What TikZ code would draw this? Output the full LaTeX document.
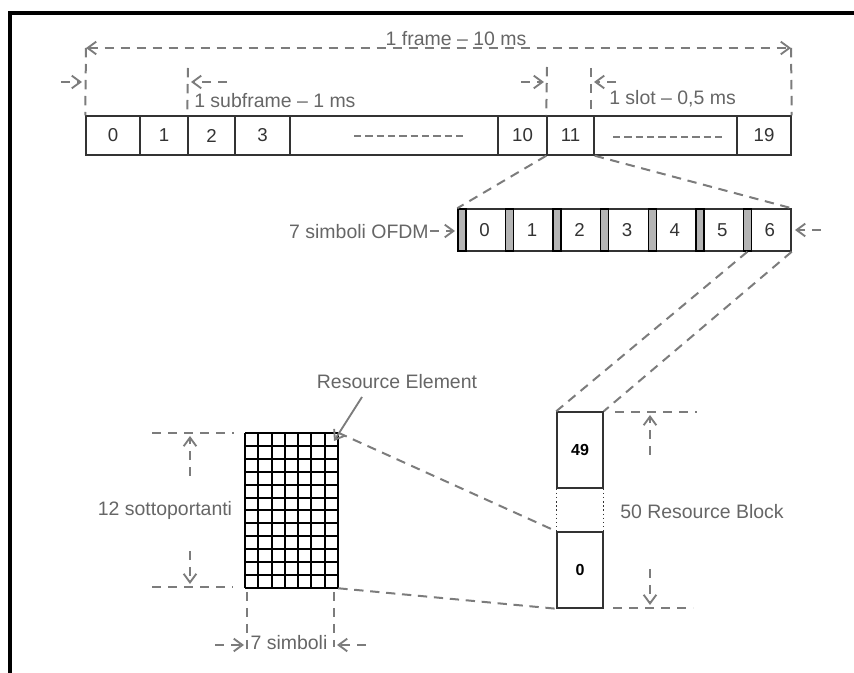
\documentclass[tikz,border=0pt]{standalone}
\usepackage{fontspec}
\setmainfont{Liberation Sans}
\usetikzlibrary{arrows.meta,fit,calc}
\definecolor{dimgray}{HTML}{7C7C7C}
\definecolor{txtgray}{HTML}{666666}
\definecolor{boxline}{HTML}{333333}
\definecolor{cpfill}{HTML}{B4B4B4}
\tikzset{
  dim/.style={draw=dimgray, line width=1.5pt, dash pattern=on 7pt off 5pt},
  tipend/.style={-{Straight Barb[length=6.5pt,width=9.5pt,line width=1.4pt]}},
  tipboth/.style={{Straight Barb[length=6.5pt,width=9.5pt,line width=1.4pt]}-{Straight Barb[length=6.5pt,width=9.5pt,line width=1.4pt]}},
  cell/.style={draw=boxline, line width=1.1pt, inner sep=0pt, fill=white},
  cpbar/.style={draw=black, line width=1.1pt, inner sep=0pt, fill=cpfill},
  digit/.style={text=boxline, font=\fontsize{14}{16}\selectfont, inner sep=0pt},
  bdigit/.style={text=black, font=\fontsize{12}{14}\selectfont\bfseries, inner sep=0pt},
  lbl/.style={text=txtgray, font=\fontsize{14.6}{17}\selectfont, inner sep=0pt},
  fillerdash/.style={draw=dimgray, line width=0.9pt, dash pattern=on 5.5pt off 3pt},
  gridline/.style={draw=black, line width=1.5pt},
  pointer/.style={draw=dimgray, line width=1.4pt, -{Straight Barb[length=6.5pt,width=9.5pt,line width=1.4pt]}},
}
\begin{document}
\begin{tikzpicture}[x=0.75pt,y=-0.75pt]
\useasboundingbox (0,0) rectangle (854,673);
% border
\draw[black, line width=2.3pt] (10,673) -- (10,13) -- (854,13);

% ---------- frame row ----------
\node[cell, fit={(86,116)(140,155)}, label={[digit]center:0}] (f0) {};
\node[cell, fit={(140,116)(188,155)}, label={[digit]center:1}] (f1) {};
\node[cell, fit={(188,116)(235,155)}, label={[digit]center:2}] (f2) {};
\node[cell, fit={(235,116)(290,155)}, label={[digit]center:3}] (f3) {};
\node[cell, fit={(290,116)(498,155)}] (fd1) {};
\node[cell, fit={(498,116)(547,155)}, label={[digit]center:10}] (f10) {};
\node[cell, fit={(547,116)(594,155)}, label={[digit]center:11}] (f11) {};
\node[cell, fit={(594,116)(737,155)}] (fd2) {};
\node[cell, fit={(737,116)(791,155)}, label={[digit]center:19}] (f19) {};
\draw[fillerdash] (354,136) -- (467,136);
\draw[fillerdash] (613,137) -- (723,137);

% frame dimension
\coordinate (fl) at (86,48);
\coordinate (fr) at (791,48);
\draw[dim, tipboth] (fl) -- (fr);
\draw[dim] (fl) -- (f0.north west);
\draw[dim] (fr) -- (f19.north east);
\node[lbl, anchor=base] (tframe) at (456,46) {1 frame – 10 ms};

% subframe dimension
\coordinate (sfa) at (61,82);
\coordinate (sfb) at (82,82);
\draw[dim, tipend] (sfa) -- (sfb);
\coordinate (sfv) at (188,68);
\draw[dim] (sfv) -- (f2.north west);
\coordinate (sfc) at (227,82);
\coordinate (sfd) at (191,82);
\draw[dim, tipend] (sfc) -- (sfd);
\node[lbl, anchor=west] (tsub) at (194,101) {1 subframe – 1 ms};

% slot dimension
\coordinate (sla) at (521,82);
\coordinate (slb) at (544,82);
\draw[dim, tipend] (sla) -- (slb);
\coordinate (slv1) at (547,67);
\draw[dim] (slv1) -- (f11.north west);
\coordinate (slv2) at (591,68);
\coordinate (slv2b) at (591,114);
\draw[dim] (slv2) -- (slv2b);
\coordinate (slc) at (616,82);
\coordinate (sld) at (594,82);
\draw[dim, tipend] (slc) -- (sld);
\node[lbl, anchor=west] (tslot) at (609,99) {1 slot – 0,5 ms};

% ---------- OFDM row ----------
\foreach \k in {0,...,6}{
  \pgfmathsetmacro{\xa}{458+47.57*\k}
  \pgfmathsetmacro{\xb}{\xa+8}
  \pgfmathsetmacro{\xc}{\xa+47.57}
  \node[cell, fit={(\xb,209)(\xc,251)}, label={[digit, xshift=-1pt]center:\k}] (s\k) {};
  \node[cpbar, fit={(\xa,209)(\xb,251)}] (cp\k) {};
}
\node[lbl, anchor=east] (tofdm) at (429,232) {7 simboli OFDM};
\coordinate (oa) at (430,231);
\coordinate (ob) at (455,231);
\draw[dim, tipend] (oa) -- (ob);
\coordinate (oc) at (821,230);
\coordinate (od) at (795,230);
\draw[dim, tipend] (oc) -- (od);

% zoom lines slot 11 -> OFDM
\draw[dim] (f11.south west) -- (cp0.north west);
\draw[dim] (f11.south east) -- (s6.north east);

% ---------- Resource block column ----------
\node[cell, fit={(557,412)(603,488)}, label={[bdigit]center:49}] (rb49) {};
\node[cell, fit={(557,532)(603,608)}, label={[bdigit]center:0}] (rb0) {};
\draw[draw=boxline, line width=1.1pt, dotted] (rb49.south west) -- (rb0.north west);
\draw[draw=boxline, line width=1.1pt, dotted] (rb49.south east) -- (rb0.north east);

% zoom lines symbol 6 -> RB
\draw[dim] (cp6.south) -- (rb49.north west);
\draw[dim] (s6.south east) -- (rb49.north east);

% RB dimension
\coordinate (ra1) at (615,412);
\coordinate (ra2) at (697,412);
\draw[dim] (ra1) -- (ra2);
\coordinate (rb1) at (613,608);
\coordinate (rb2) at (693,608);
\draw[dim] (rb1) -- (rb2);
\coordinate (rc1) at (650,455);
\coordinate (rc2) at (650,415);
\draw[dim, tipend] (rc1) -- (rc2);
\coordinate (rd1) at (650,569);
\coordinate (rd2) at (650,605);
\draw[dim, tipend] (rd1) -- (rd2);
\node[lbl, anchor=west] (trb) at (620,512) {50 Resource Block};

% ---------- Resource grid ----------
\node[inner sep=0pt, fit={(245,433)(338,588)}] (grid) {};
\foreach \i in {0,...,7}{
  \pgfmathsetmacro{\gx}{245+93/7*\i}
  \draw[gridline] (\gx,433) -- (\gx,588);
}
\foreach \j in {0,...,12}{
  \pgfmathsetmacro{\gy}{433+155/12*\j}
  \draw[gridline] (245,\gy) -- (338,\gy);
}

% zoom lines grid -> RB 0
\draw[dim] (grid.north east) -- (rb0.north west);
\draw[dim] (grid.south east) -- (rb0.south west);

% Resource Element pointer
\node[lbl] (tre) at (397,382) {Resource Element};
\coordinate (rea) at (362,397);
\coordinate (reb) at (334,441);
\draw[pointer] (rea) -- (reb);

% grid height dimension
\coordinate (ga1) at (152,433);
\coordinate (ga2) at (234,433);
\draw[dim] (ga1) -- (ga2);
\coordinate (gb1) at (152,587);
\coordinate (gb2) at (233,587);
\draw[dim] (gb1) -- (gb2);
\coordinate (gc1) at (190,476);
\coordinate (gc2) at (190,436);
\draw[dim, tipend] (gc1) -- (gc2);
\coordinate (gd1) at (190,551);
\coordinate (gd2) at (190,584);
\draw[dim, tipend] (gd1) -- (gd2);
\node[lbl] (tsott) at (165,510) {12 sottoportanti};

% grid width dimension
\coordinate (gw1) at (247,592);
\coordinate (gw1b) at (247,650);
\draw[dim] (gw1) -- (gw1b);
\coordinate (gw2) at (334,592);
\coordinate (gw2b) at (334,647);
\draw[dim] (gw2) -- (gw2b);
\coordinate (ge1) at (215,645);
\coordinate (ge2) at (244,645);
\draw[dim, tipend] (ge1) -- (ge2);
\coordinate (gf1) at (366,645);
\coordinate (gf2) at (337,645);
\draw[dim, tipend] (gf1) -- (gf2);
\node[lbl] (tsimb) at (289,643) {7 simboli};
\end{tikzpicture}
\end{document}
